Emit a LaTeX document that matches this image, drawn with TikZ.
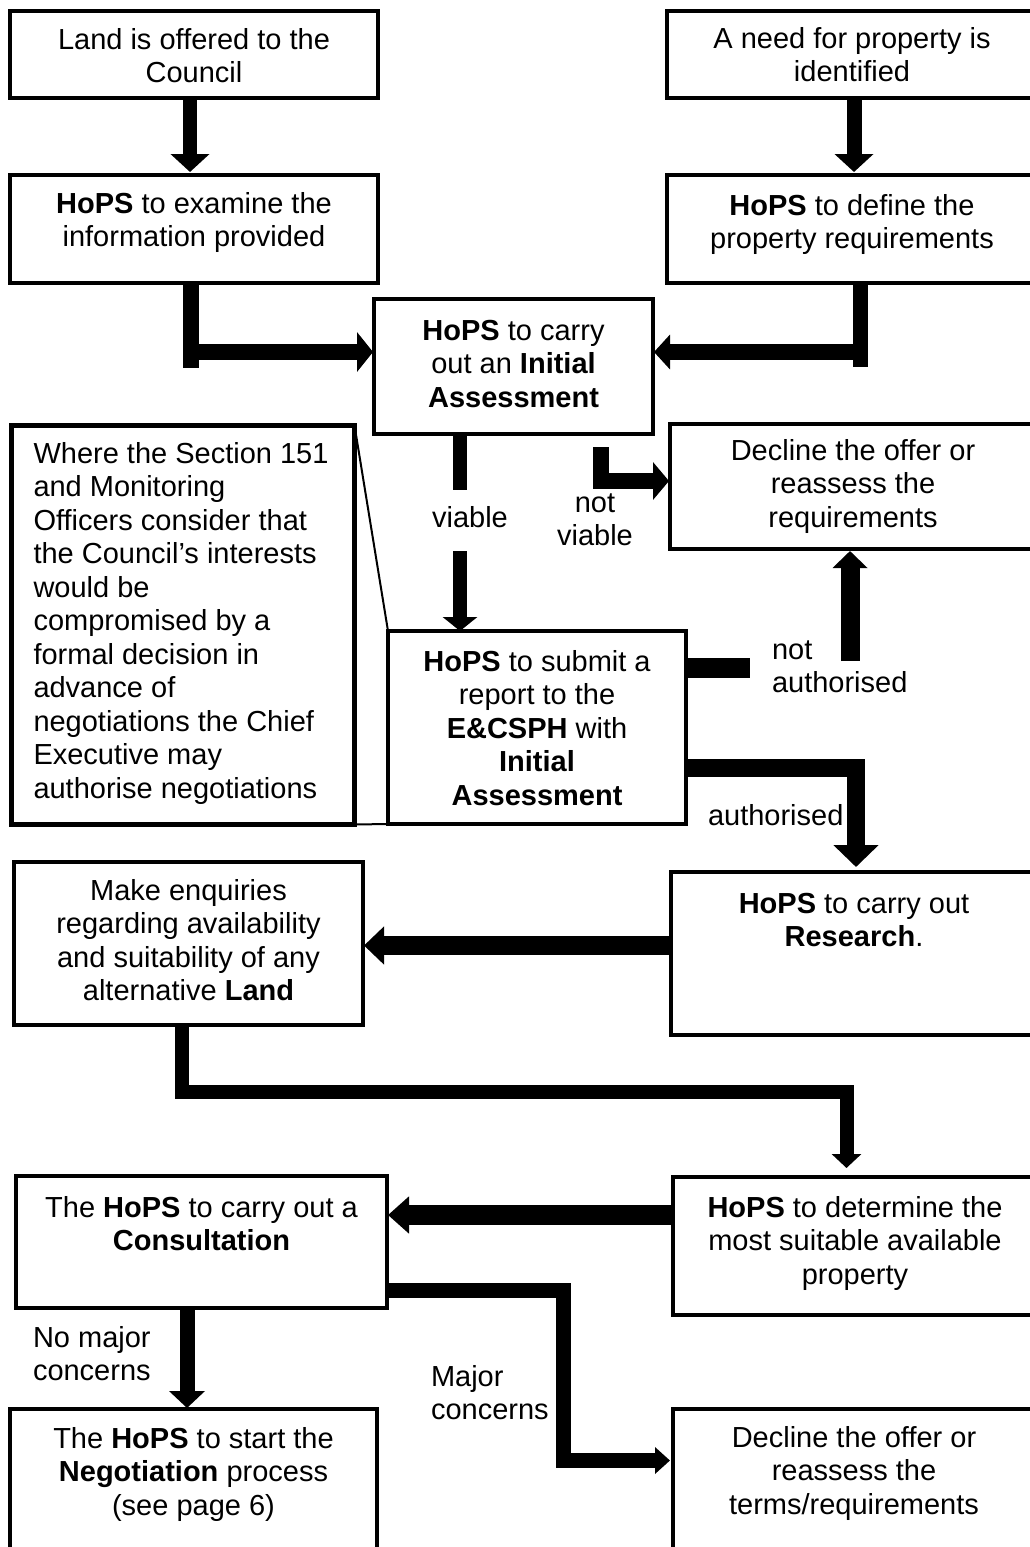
\documentclass[tikz,border=0pt]{standalone}
\usepackage{fontspec}
\setmainfont{Liberation Sans}
\usetikzlibrary{arrows.meta}
\newcommand\bxt[4]{\parbox[c][#2pt][t]{#1pt}{\centering\rule{0pt}{#3pt}#4\par}}
\newcommand\cbx[4]{\parbox[c][#2pt][t]{#1pt}{\raggedright\leftskip=22pt\rule{0pt}{#3pt}#4\par}}
\begin{document}
\begin{tikzpicture}[x=1pt,y=-1pt,
  every node/.style={font=\fontsize{29}{33.5}\selectfont},
  box/.style={draw, line width=4pt, inner sep=0pt, outer sep=0pt},
  lbl/.style={inner sep=0pt, outer sep=0pt},
  conn/.style={line width=15pt, line join=miter},
  ah/.style 2 args={arrows={-{Triangle[width=#1pt,length=#2pt]}}}]
\useasboundingbox (0,0) rectangle (1029,1547);
% boxes
\node[box] (land) at (194,54.5) {\bxt{368}{87}{38}{Land is offered to the\\Council}};
\node[box] (need) at (852,54.5) {\bxt{370}{87}{37}{A need for property is\\identified}};
\node[box] (examine) at (194,229) {\bxt{368}{108}{38}{\textbf{HoPS} to examine the\\information provided}};
\node[box] (define) at (852,229) {\bxt{370}{108}{40}{\textbf{HoPS} to define the\\property requirements}};
\node[box] (ia) at (513.5,366.5) {\bxt{279}{135}{41}{\textbf{HoPS} to carry\\out an \textbf{Initial}\\\textbf{Assessment}}};
\node[box] (decl1) at (853,486.5) {\bxt{366}{125}{36}{Decline the offer or\\reassess the\\requirements}};
\node[box, line width=5pt] (callout) at (183,625) {\cbx{343}{399}{37.5}{Where the Section 151\\and Monitoring\\Officers consider that\\the Council’s interests\\would be\\compromised by a\\formal decision in\\advance of\\negotiations the Chief\\Executive may\\authorise negotiations}};
\node[box] (submit) at (537,727.5) {\bxt{298}{193}{40}{\textbf{HoPS} to submit a\\report to the\\\textbf{E\&CSPH} with\\\textbf{Initial}\\\textbf{Assessment}}};
\node[box] (enq) at (188.5,943.5) {\bxt{349}{163}{38}{Make enquiries\\regarding availability\\and suitability of any\\alternative \textbf{Land}}};
\node[box] (research) at (854,953.5) {\bxt{366}{163}{41}{\textbf{HoPS} to carry out\\\textbf{Research}.}};
\node[box] (consult) at (201.5,1242) {\bxt{371}{132}{41}{The \textbf{HoPS} to carry out a\\\textbf{Consultation}}};
\node[box] (determine) at (855,1246) {\bxt{364}{138}{40}{\textbf{HoPS} to determine the\\most suitable available\\property}};
\node[box] (negot) at (193.5,1489.5) {\bxt{367}{161}{39}{The \textbf{HoPS} to start the\\\textbf{Negotiation} process\\(see page 6)}};
\node[box] (decl2) at (854,1489.5) {\bxt{362}{161}{38}{Decline the offer or\\reassess the\\terms/requirements}};
% callout lines
\draw[line width=2pt] (callout.north east) -- (submit.north west);
\draw[line width=2pt] (callout.south east) -- (submit.south west);
% labels
\node[lbl, anchor=base] (lviable) at (470,527) {viable};
\node[lbl, anchor=north, align=center] (lnotviable) at (595,487) {\rule{0pt}{25pt}not\\viable};
\node[lbl, anchor=north west, align=left] (lnotauth) at (772,634) {\rule{0pt}{25pt}not\\authorised};
\node[lbl, anchor=base west] (lauth) at (708,825) {authorised};
\node[lbl, anchor=north west, align=left] (lnomajor) at (33,1322) {\rule{0pt}{25pt}No major\\concerns};
\node[lbl, anchor=north west, align=left] (lmajor) at (431,1361) {\rule{0pt}{25pt}Major\\concerns};
% coordinates for free ends
\coordinate (v1) at (460,490);
\coordinate (v2) at (460,551);
\coordinate (nvstart) at (601,447);
\coordinate (naend) at (750,668);
\coordinate (nastart) at (850,661);
\coordinate (exbend) at (191,368);
\coordinate (exjoin) at (191,352);
\coordinate (dfbend) at (860,367);
\coordinate (dfjoin) at (860,352);
% connectors
\draw[conn, line width=14pt, ah={38}{18}, shorten >=3pt] (190,0 |- land.south) -- (190,0 |- examine.north);
\draw[conn, line width=15pt, ah={38}{18}, shorten >=3pt] (854,0 |- need.south) -- (854,0 |- define.north);
\draw[conn, line width=16pt] (191,0 |- examine.south) -- (exbend);
\draw[conn, line width=16pt, ah={39}{16}, shorten >=1pt] (exjoin) -- (ia.west |- exjoin);
\draw[conn, line width=15pt] (860,0 |- define.south) -- (dfbend);
\draw[conn, line width=16pt, ah={34}{16}, shorten >=1pt] (dfjoin) -- (ia.east |- dfjoin);
\draw[conn, line width=14pt] (460,0 |- ia.south) -- (v1);
\draw[conn, line width=14pt, ah={34}{14}] (v2) -- (460,0 |- submit.north);
\draw[conn, line width=16pt, ah={37}{16}, shorten >=1pt] (nvstart) |- (decl1.west |- 0,481);
\draw[conn, line width=20pt] (submit.east |- 0,668) -- (naend);
\draw[conn, line width=19pt, ah={34}{17}, shorten >=2pt] (nastart) -- (850,0 |- decl1.south);
\draw[conn, line width=18pt, ah={44}{22}, shorten >=5pt] (submit.east |- 0,768) -| (856,0 |- research.north);
\draw[conn, line width=19pt, ah={37}{20}, shorten >=1pt] (research.west |- 0,945.5) -- (enq.east |- 0,945.5);
\draw[conn, line width=14pt, ah={29}{14}, shorten >=9pt] (182,0 |- enq.south) |- (846.5,1092) -- (846.5,0 |- determine.north);
\draw[conn, line width=20pt, ah={36}{21}, shorten >=1pt] (determine.west |- 0,1215) -- (consult.east |- 0,1215);
\draw[conn, line width=15pt, ah={35}{17}, shorten >=1pt] (187,0 |- consult.south) -- (187,0 |- negot.north);
\draw[conn, line width=15pt, ah={26}{15}, shorten >=3pt] (consult.east |- 0,1290) -| (563.5,1460.5) -- (decl2.west |- 0,1460.5);
\end{tikzpicture}
\end{document}
